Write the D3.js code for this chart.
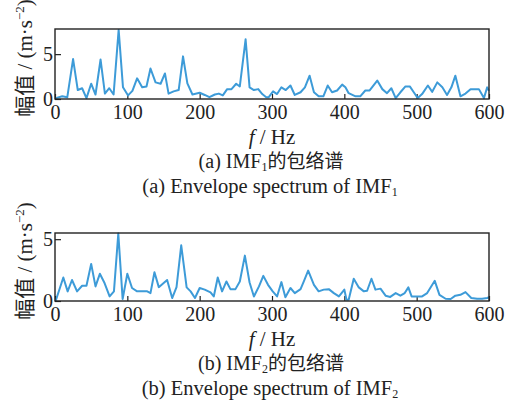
<!DOCTYPE html>
<html>
<head>
<meta charset="utf-8">
<script src="https://cdn.jsdelivr.net/npm/d3@7"></script>
<style>
  body { margin: 0; background: #fff; }
  svg text { font-family: "Liberation Serif", "Times New Roman", serif; fill: #222; }
  .cjk { font-family: "Noto Sans CJK SC", sans-serif; }
</style>
</head>
<body>
<div id="chart"></div>
<script>
// envelope spectrum of IMF1 (frequency in Hz, amplitude in m/s^2)
const freq1 = [1, 10, 17, 25, 31.5, 37.5, 43.5, 50, 56, 63, 69, 75, 81, 88, 94, 101, 107, 113.5, 120.5, 126.5,
  132, 139, 146, 152, 157, 164, 171, 177, 183, 190, 200, 207, 213.5, 221, 226.5, 232, 238, 244, 250.5, 255.5,
  263.5, 269, 275, 281, 286.5, 292, 295.5, 301.5, 307, 313, 319, 325.5, 331.5, 339.5, 345.5, 352, 358, 364.5,
  371, 377, 383, 390, 397, 401.5, 406, 415.5, 422, 429, 435, 445.5, 452.5, 459, 465, 471, 477.5, 484.5, 490.5,
  496, 501.5, 507.5, 515.5, 521.5, 528.5, 535.5, 542, 548, 553.5, 560.5, 567.5, 574.5, 586, 593, 597.5, 600];
const amp1 = [0.1, 0.3, 0.2, 4.45, 1.0, 1.2, 0.1, 1.7, 0.5, 4.4, 0.6, 1.2, 0.5, 7.7, 1.3, 0.4, 0.9, 2.3, 1.3, 1.4,
  3.4, 1.85, 1.7, 2.85, 0.6, 0.85, 1.0, 4.75, 1.75, 0.5, 0.7, 0.45, 0.2, 0.5, 0.6, 0.4, 1.1, 1.1, 1.7, 1.4,
  6.65, 1.3, 1.0, 1.1, 0.55, 0.2, 0.2, 0.85, 0.55, 1.3, 1.0, 1.5, 0.45, 0.75, 1.3, 2.6, 0.75, 0.3,
  0.3, 1.5, 0.75, 0.95, 1.6, 1.3, 0.65, 0.3, 0.3, 0.95, 0.95, 2.05, 1.1, 0.65, 1.2, 0.1, 0.75, 1.4, 1.4,
  0.75, 0.1, 0.55, 1.5, 0.8, 1.85, 1.3, 0.45, 1.3, 2.6, 0.3, 0.6, 1.1, 1.1, 0.1, 1.3, 0.9];

// envelope spectrum of IMF2
const freq2 = [1, 11.5, 17.5, 23.5, 30.5, 37.5, 43.5, 50, 56, 62, 68.5, 75.5, 81.5, 87.5, 93.5, 100, 106.5, 113.5,
  127.5, 132, 137.5, 143.5, 155, 162, 168, 174.5, 182, 187.5, 193.5, 200, 207, 215, 219.5, 225, 231, 237, 242.5,
  249.5, 255.5, 262.5, 269, 275, 282, 288, 294.5, 301, 307, 313, 318.5, 325.5, 331.5, 339.5, 344, 350, 358,
  364.5, 371.5, 378.5, 385.5, 392.5, 397, 400, 403, 406, 413, 420, 427, 431.5, 437.5, 443, 450, 457, 463.5,
  471, 477.5, 483.5, 488.5, 493, 500, 507.5, 514.5, 525, 531.5, 540, 547, 553.5, 560.5, 567.5, 575.5, 583.5,
  590.5, 597.5, 600];
const amp2 = [0.02, 1.9, 0.78, 1.7, 0.78, 1.23, 1.23, 3.0, 1.18, 2.2, 1.45, 0.37, 0.78, 5.45, 0.16, 2.2, 1.05, 0.78,
  0.78, 0.64, 2.33, 1.12, 1.7, 0.24, 1.12, 4.5, 1.1, 0.78, 0.24, 1.05, 0.92, 0.7, 0.37, 1.9, 0.78, 1.58, 0.96,
  0.96, 1.58, 3.67, 1.5, 0.37, 1.18, 2.03, 1.31, 0.78, 0.37, 1.53, 0.3, 1.05, 0.64, 0.96, 1.58, 2.46, 1.31,
  0.78, 0.92, 0.96, 0.64, 0.37, 0.7, 0.92, 0.1, 0.1, 1.8, 1.1, 0.78, 0.83, 1.8, 0.92, 1.0, 0.43, 0.33,
  0.64, 0.43, 0.64, 1.1, 0.37, 0.37, 0.37, 0.64, 1.63, 0.5, 0.18, 0.16, 0.43, 0.5, 0.72, 0.24, 0.18,
  0.18, 0.24, 0.3];

const xTicks = [0, 100, 200, 300, 400, 500, 600];
const yTicks = [0, 5];

const width = 512, height = 404;
const svg = d3.select('#chart').append('svg')
  .attr('width', width)
  .attr('height', height);

const x = d3.scaleLinear().domain([0, 600]).range([55, 489]);

const panels = [
  { freq: freq1, amp: amp1, top: 29, bottom: 99, ymax: 7.8, tag: '(a)', sub: '1' },
  { freq: freq2, amp: amp2, top: 233, bottom: 301, ymax: 5.5, tag: '(b)', sub: '2' }
];

panels.forEach((p) => {
  const y = d3.scaleLinear().domain([0, p.ymax]).range([p.bottom, p.top]);
  const g = svg.append('g');

  // x axis, ticks pointing inward
  const gx = g.append('g')
    .attr('transform', `translate(0,${p.bottom})`)
    .call(d3.axisBottom(x).tickValues(xTicks).tickSize(-5).tickPadding(6));
  gx.select('.domain').remove();
  gx.selectAll('text').style('font-size', '20px');
  gx.selectAll('line').attr('stroke', '#222').attr('stroke-width', 1.2);

  const gy = g.append('g')
    .attr('transform', `translate(${x(0)},0)`)
    .call(d3.axisLeft(y).tickValues(yTicks).tickFormat(d3.format('d')).tickSize(-6).tickPadding(2));
  gy.select('.domain').remove();
  gy.selectAll('text').style('font-size', '20px');
  gy.selectAll('line').attr('stroke', '#222').attr('stroke-width', 1.2);

  const line = d3.line()
    .x((d, i) => x(p.freq[i]))
    .y((d) => y(d));

  g.append('path')
    .datum(p.amp)
    .attr('fill', 'none')
    .attr('stroke', '#3d9bd8')
    .attr('stroke-width', 2)
    .attr('stroke-linejoin', 'round')
    .attr('d', line);

  // frame
  g.append('rect')
    .attr('x', x(0))
    .attr('y', p.top)
    .attr('width', x(600) - x(0))
    .attr('height', p.bottom - p.top)
    .attr('fill', 'none')
    .attr('stroke', '#222')
    .attr('stroke-width', 1.4);

  // y label
  const yl = g.append('text')
    .attr('transform', `translate(32,${(p.top + p.bottom) / 2 - 6}) rotate(-90)`)
    .attr('text-anchor', 'middle')
    .style('font-size', '21px');
  yl.append('tspan').attr('class', 'cjk').text('幅值');
  yl.append('tspan').text(' / (m·s');
  yl.append('tspan').attr('dy', -8).style('font-size', '13px').text('−2');
  yl.append('tspan').attr('dy', 8).text(')');

  // x label
  const xl = g.append('text')
    .attr('x', 272)
    .attr('y', p.bottom + 45)
    .attr('text-anchor', 'middle')
    .style('font-size', '21px');
  xl.append('tspan').style('font-style', 'italic').text('f');
  xl.append('tspan').text(' / Hz');

  // captions
  const c1 = g.append('text')
    .attr('x', 271)
    .attr('y', p.bottom + 69)
    .attr('text-anchor', 'middle')
    .style('font-size', '20px');
  c1.append('tspan').text(p.tag + '  IMF');
  c1.append('tspan').attr('dy', 3).style('font-size', '12px').text(p.sub);
  c1.append('tspan').attr('dy', -3).attr('class', 'cjk').style('font-size', '19px').text('的包络谱');

  const c2 = g.append('text')
    .attr('x', 270)
    .attr('y', p.bottom + 94)
    .attr('text-anchor', 'middle')
    .style('font-size', '20.5px');
  c2.append('tspan').text(p.tag + '  Envelope spectrum of IMF');
  c2.append('tspan').attr('dy', 3).style('font-size', '12px').text(p.sub);
});
</script>
</body>
</html>
